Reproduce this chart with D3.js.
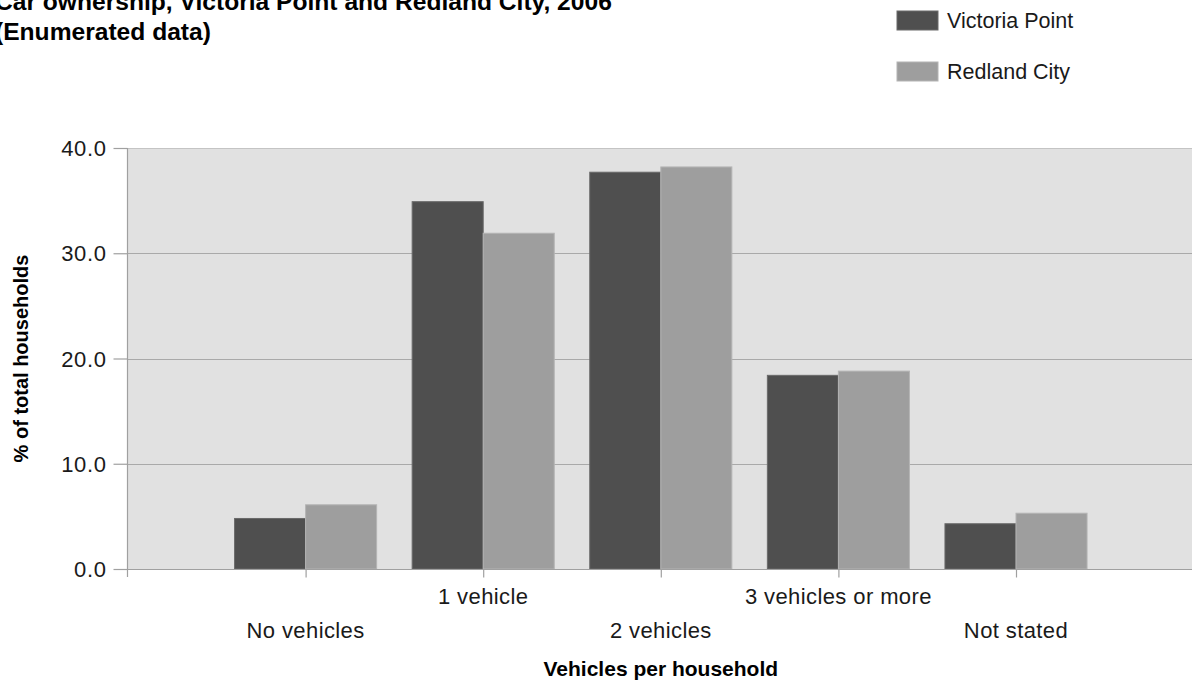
<!DOCTYPE html>
<html>
<head>
<meta charset="utf-8">
<script src="https://cdn.jsdelivr.net/npm/d3@7"></script>
<style>
  html, body { margin: 0; padding: 0; background: #ffffff; }
  svg { display: block; font-family: Arial, "Liberation Sans", sans-serif; }
</style>
</head>
<body>
<svg id="chart" width="1192" height="684"></svg>
<script>
// Car ownership per household, 2006 census (enumerated data)
const categories = ["No vehicles", "1 vehicle", "2 vehicles", "3 vehicles or more", "Not stated"];
const seriesNames = ["Victoria Point", "Redland City"];
const victoriaPoint = [4.8, 34.9, 37.7, 18.4, 4.3];
const redlandCity = [6.1, 31.9, 38.2, 18.8, 5.3];
const yTicks = [0, 10, 20, 30, 40];

const titleLines = ["Car ownership, Victoria Point and Redland City, 2006", "(Enumerated data)"];
const xTitle = "Vehicles per household";
const yTitle = "% of total households";

const fills = { "Victoria Point": "#4f4f4f", "Redland City": "#9e9e9e" };
const strokes = { "Victoria Point": "#6a6a6a", "Redland City": "#b4b4b4" };

const svg = d3.select("#chart");

const plot = { left: 128, top: 148, bottom: 569, right: 1193.6 };

const x = d3.scalePoint().domain(categories).range([plot.left, plot.right]).padding(1);
const step = x.step();
const xSub = d3.scaleBand().domain(seriesNames).range([-0.4 * step, 0.4 * step]);
const y = d3.scaleLinear().domain([0, 40]).range([plot.bottom, plot.top]);

// plot background
svg.append("rect")
  .attr("x", plot.left).attr("y", plot.top)
  .attr("width", plot.right - plot.left).attr("height", plot.bottom - plot.top)
  .attr("fill", "#e1e1e1");

// horizontal gridlines
svg.append("g").selectAll("line")
  .data(yTicks.filter(d => d > 0))
  .join("line")
  .attr("x1", plot.left).attr("x2", plot.right)
  .attr("y1", d => Math.round(y(d)) + 0.5).attr("y2", d => Math.round(y(d)) + 0.5)
  .attr("stroke", d => d === 40 ? "#c4c4c4" : "#a9a9a9")
  .attr("stroke-width", 1.2);

// bars
const rows = categories.map((c, i) => ({
  category: c,
  values: [
    { name: seriesNames[0], value: victoriaPoint[i] },
    { name: seriesNames[1], value: redlandCity[i] }
  ]
}));

const groups = svg.append("g").selectAll("g")
  .data(rows)
  .join("g")
  .attr("transform", d => `translate(${x(d.category)},0)`);

groups.selectAll("rect")
  .data(d => d.values)
  .join("rect")
  .attr("x", d => xSub(d.name))
  .attr("y", d => y(d.value))
  .attr("width", xSub.bandwidth())
  .attr("height", d => y(0) - y(d.value))
  .attr("fill", d => fills[d.name])
  .attr("stroke", d => strokes[d.name])
  .attr("stroke-width", 1);

// y axis
const yAxis = svg.append("g")
  .attr("transform", `translate(${plot.left - 0.5},0)`)
  .call(d3.axisLeft(y).tickValues(yTicks).tickFormat(d3.format(".1f")).tickSize(14).tickSizeOuter(0).tickPadding(7));
yAxis.select(".domain").remove();
yAxis.selectAll(".tick line").attr("stroke", "#a0a0a0").attr("stroke-width", 1.2);
yAxis.selectAll(".tick text")
  .attr("fill", "#1a1a1a")
  .style("font-size", "22px")
  .style("letter-spacing", "0.6px")
  .attr("dy", "0.35em");
yAxis.append("line")
  .attr("x1", 0).attr("x2", 0)
  .attr("y1", plot.top).attr("y2", plot.bottom + 8)
  .attr("stroke", "#a0a0a0").attr("stroke-width", 1.2);

// x axis
const xAxis = svg.append("g")
  .attr("transform", `translate(0,${plot.bottom + 0.5})`)
  .call(d3.axisBottom(x).tickSize(8).tickSizeOuter(0).tickFormat(""));
xAxis.select(".domain").remove();
xAxis.selectAll(".tick line").attr("stroke", "#a0a0a0").attr("stroke-width", 1.2);
xAxis.append("line")
  .attr("x1", plot.left).attr("x2", plot.right)
  .attr("stroke", "#a0a0a0").attr("stroke-width", 1.2);

// staggered category labels
svg.append("g").selectAll("text")
  .data(categories)
  .join("text")
  .attr("x", d => x(d))
  .attr("y", (d, i) => i % 2 === 0 ? 638 : 604)
  .attr("text-anchor", "middle")
  .attr("fill", "#1a1a1a")
  .style("font-size", "22px")
  .style("letter-spacing", "0.4px")
  .text(d => d);

// axis titles
svg.append("text")
  .attr("x", (plot.left + plot.right) / 2)
  .attr("y", 676)
  .attr("text-anchor", "middle")
  .attr("fill", "#000")
  .style("font-size", "21px")
  .style("font-weight", "bold")
  .text(xTitle);

svg.append("text")
  .attr("transform", `translate(28,${(plot.top + plot.bottom) / 2}) rotate(-90)`)
  .attr("text-anchor", "middle")
  .attr("fill", "#000")
  .style("font-size", "20px")
  .style("font-weight", "bold")
  .text(yTitle);

// chart title
svg.append("g").selectAll("text")
  .data(titleLines)
  .join("text")
  .attr("x", -5)
  .attr("y", (d, i) => 10 + i * 30)
  .attr("fill", "#000")
  .style("font-size", "24.6px")
  .style("font-weight", "bold")
  .text(d => d);

// legend
const legend = svg.append("g").selectAll("g")
  .data(seriesNames)
  .join("g")
  .attr("transform", (d, i) => `translate(897,${11 + i * 51})`);
legend.append("rect")
  .attr("width", 41).attr("height", 19)
  .attr("fill", d => fills[d])
  .attr("stroke", d => strokes[d]).attr("stroke-width", 1);
legend.append("text")
  .attr("x", 50).attr("y", 17)
  .attr("fill", "#1a1a1a")
  .style("font-size", "21.5px")
  .text(d => d);
</script>
</body>
</html>
